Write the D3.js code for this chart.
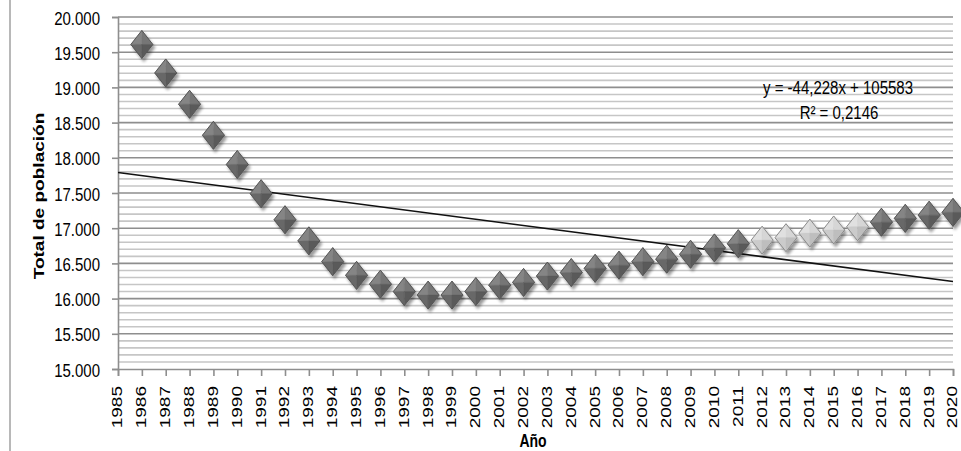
<!DOCTYPE html>
<html>
<head>
<meta charset="utf-8">
<script src="https://cdn.jsdelivr.net/npm/d3@7"></script>
<style>
  html, body { margin: 0; padding: 0; background: #fff; }
  svg { display: block; }
  text { font-family: "Liberation Sans", Arial, sans-serif; fill: #000; }
</style>
</head>
<body>
<svg id="chart" width="961" height="451"></svg>
<script>
// ---- data ----
const years = [1986,1987,1988,1989,1990,1991,1992,1993,1994,1995,1996,1997,1998,1999,2000,
  2001,2002,2003,2004,2005,2006,2007,2008,2009,2010,2011,2012,2013,2014,2015,2016,2017,2018,2019,2020];
const population = [19610,19205,18760,18320,17905,17490,17120,16820,16525,16330,16205,16100,16050,16050,16100,
  16190,16230,16320,16370,16430,16475,16525,16560,16630,16720,16780,16830,16865,16930,16975,17020,17085,17140,17185,17225];
const highlightYears = [2012,2013,2014,2015,2016];
const xTickLabels = d3.range(1985, 2021).map(String);
const yTickValues = [15000,15500,16000,16500,17000,17500,18000,18500,19000,19500,20000];
const yTickLabels = ["15.000","15.500","16.000","16.500","17.000","17.500","18.000","18.500","19.000","19.500","20.000"];
const trendSlope = -44.228;
const trendIntercept = 105583;
const equationText = "y = -44,228x + 105583";
const r2Text = "R² = 0,2146";
const yTitle = "Total de población";
const xTitle = "Año";

// ---- layout ----
const svg = d3.select("#chart");
const pLeft = 118, pRight = 953, pTop = 17, pBottom = 369;
const x = d3.scaleLinear().domain([1985, 2020]).range([pLeft, pRight]);
const y = d3.scaleLinear().domain([15000, 20000]).range([pBottom, pTop]);
const SY = 1.27; // vertical stretch of text in reference

// outer frame line
svg.append("line").attr("x1", 10).attr("x2", 10).attr("y1", 0).attr("y2", 451)
  .attr("stroke", "#a0a0a0").attr("stroke-width", 1.5);

// defs
const defs = svg.append("defs");
const f = defs.append("filter").attr("id", "shadow").attr("x", "-50%").attr("y", "-50%").attr("width", "200%").attr("height", "200%");
f.append("feGaussianBlur").attr("in", "SourceGraphic").attr("stdDeviation", 0.6).attr("result", "soft");
f.append("feGaussianBlur").attr("in", "SourceAlpha").attr("stdDeviation", 1.8).attr("result", "b");
f.append("feOffset").attr("in", "b").attr("dx", 1.5).attr("dy", 2.5).attr("result", "o");
f.append("feComponentTransfer").attr("in", "o").attr("result", "o2")
  .append("feFuncA").attr("type", "linear").attr("slope", 0.4);
const m = f.append("feMerge");
m.append("feMergeNode").attr("in", "o2");
m.append("feMergeNode").attr("in", "soft");

// minor gridlines
const minorVals = d3.range(15100, 20000, 100).filter(v => v % 500 !== 0);
svg.append("g").selectAll("line").data(minorVals).join("line")
  .attr("x1", pLeft).attr("x2", pRight)
  .attr("y1", d => y(d)).attr("y2", d => y(d))
  .attr("stroke", "#c6c6c6").attr("stroke-width", 1.6);
// major gridlines
svg.append("g").selectAll("line").data(yTickValues.filter(v => v > 15000)).join("line")
  .attr("x1", pLeft).attr("x2", pRight)
  .attr("y1", d => y(d)).attr("y2", d => y(d))
  .attr("stroke", "#8e8e8e").attr("stroke-width", 1.6);

// y axis
const yAxis = d3.axisLeft(y).tickValues(yTickValues).tickSize(6).tickFormat((d, i) => yTickLabels[i]);
const gy = svg.append("g").attr("transform", `translate(${pLeft},0)`).call(yAxis);
gy.select(".domain").attr("stroke", "#8e8e8e").attr("stroke-width", 1.6);
gy.selectAll(".tick line").attr("stroke", "#8e8e8e").attr("stroke-width", 1.6);
gy.selectAll(".tick text").attr("font-size", 15).attr("x", -18).attr("y", 0).attr("dy", null)
  .attr("dominant-baseline", "middle")
  .attr("transform", `translate(0,2) scale(1,${SY})`);

// x axis
const xAxis = d3.axisBottom(x).tickValues(d3.range(1985, 2021)).tickSize(7).tickFormat((d, i) => xTickLabels[i]);
const gx = svg.append("g").attr("transform", `translate(0,${pBottom})`).call(xAxis);
gx.select(".domain").attr("stroke", "#8e8e8e").attr("stroke-width", 1.6);
gx.selectAll(".tick line").attr("stroke", "#8e8e8e").attr("stroke-width", 1.6);
gx.selectAll(".tick text").attr("font-size", 15)
  .attr("text-anchor", "end").attr("dominant-baseline", "middle")
  .attr("x", 0).attr("y", 0).attr("dy", null)
  .attr("transform", `translate(0,17) scale(1,${SY}) rotate(-90)`);

// trendline
svg.append("line")
  .attr("x1", x(1985)).attr("y1", y(trendSlope * 1985 + trendIntercept))
  .attr("x2", x(2020)).attr("y2", y(trendSlope * 2020 + trendIntercept))
  .attr("stroke", "#111").attr("stroke-width", 1.6);

// diamonds
const w = 11, h = 14;
const data = years.map((yr, i) => ({ yr, v: population[i], light: highlightYears.includes(yr) }));
const darkCols = ["#858585", "#767676", "#686868", "#5a5a5a"];
const lightCols = ["#e0e0e0", "#d6d6d6", "#cbcbcb", "#bebebe"];
const g = svg.append("g");
const pts = g.selectAll("g.pt").data(data).join("g").attr("class", "pt")
  .attr("transform", d => `translate(${x(d.yr)},${y(d.v)})`)
  .attr("filter", "url(#shadow)");
const facets = [
  `M0,${-h}L${-w},0L0,0Z`,
  `M0,${-h}L${w},0L0,0Z`,
  `M${-w},0L0,${h}L0,0Z`,
  `M${w},0L0,${h}L0,0Z`
];
pts.each(function(d) {
  const sel = d3.select(this);
  const cols = d.light ? lightCols : darkCols;
  facets.forEach((p, k) => sel.append("path").attr("d", p).attr("fill", cols[k]).attr("stroke", cols[k]).attr("stroke-width", 0.4));
  sel.append("path").attr("d", `M0,${-h}L${w},0L0,${h}L${-w},0Z`)
    .attr("fill", "none").attr("stroke", d.light ? "#8a8a8a" : "#555").attr("stroke-width", 1);
});

// equation text
svg.append("text").attr("x", 0).attr("y", 0).attr("text-anchor", "middle").attr("font-size", 15)
  .attr("transform", `translate(838,94) scale(1,${SY})`).text(equationText);
svg.append("text").attr("x", 0).attr("y", 0).attr("text-anchor", "middle").attr("font-size", 15)
  .attr("transform", `translate(839,119) scale(1,${SY})`).text(r2Text);

// axis titles
svg.append("text").attr("text-anchor", "middle").attr("font-weight", "bold").attr("font-size", 15)
  .attr("transform", `translate(44,196) scale(1,${SY}) rotate(-90)`).text(yTitle);
svg.append("text").attr("text-anchor", "middle").attr("font-weight", "bold").attr("font-size", 14)
  .attr("transform", `translate(533,447) scale(1,${SY})`).text(xTitle);
</script>
</body>
</html>
